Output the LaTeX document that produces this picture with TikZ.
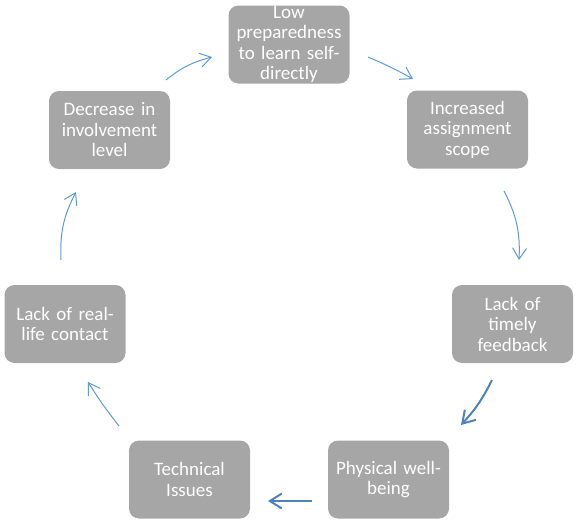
\documentclass[tikz,border=0pt]{standalone}
\usepackage{fontspec}
\setmainfont{Carlito}[WordSpace=0.85]
\usepackage{tikz}
\usetikzlibrary{arrows.meta}
\definecolor{boxgrey}{RGB}{166,166,166}
\definecolor{darkblue}{RGB}{79,129,189}
\definecolor{lightblue}{RGB}{91,155,213}
\tikzstyle{greybox}=[rectangle,rounded corners=10pt,fill=boxgrey,text=white,
                     inner sep=0pt,minimum width=121pt,minimum height=78pt,
                     text width=118pt,align=center,
                     font=\fontsize{19}{20.5}\selectfont]
\tikzstyle{thinarrow}=[draw=lightblue,line width=1pt,
                       -{Straight Barb[length=11pt,width=14pt]}]
\tikzstyle{thickarrow}=[draw=darkblue,line width=2pt,
                        -{Straight Barb[length=12pt,width=15pt]}]
\begin{document}
\begin{tikzpicture}[x=1pt,y=-1pt]
    \useasboundingbox (0,0) rectangle (579,522);
    \node (low)  at (289,  44.5) [greybox]{Low\\preparedness\\to learn self-\\directly};
    \node (incr) at (467.5,129.5) [greybox]{Increased\\assignment\\scope};
    \node (feed) at (512.5,324)   [greybox]{Lack of\\timely\\feedback};
    \node (phys) at (388.5,479.5) [greybox]{Physical well-\\being};
    \node (tech) at (189.5,479.5) [greybox]{Technical\\Issues};
    \node (real) at (65,   324)   [greybox]{Lack of real-\\life contact};
    \node (decr) at (109.5,130)   [greybox]{Decrease in\\involvement\\level};
    % arrow ends
    \coordinate (decr-out) at (166,80);
    \coordinate (low-in)   at (212,57);
    \coordinate (low-out)  at (368,57);
    \coordinate (incr-in)  at (413,79);
    \coordinate (incr-out) at (504,191);
    \coordinate (feed-in)  at (519,260);
    \coordinate (feed-out) at (492,380);
    \coordinate (phys-in)  at (461,425);
    \coordinate (phys-out) at (312,501);
    \coordinate (tech-in)  at (268,501);
    \coordinate (tech-out) at (119,426);
    \coordinate (real-in)  at (88,382);
    \coordinate (real-out) at (61,260);
    \coordinate (decr-in)  at (76,192);
    \draw[thinarrow]  (decr-out) to[bend left=12] (low-in);
    \draw[thinarrow]  (low-out)  to[bend left=3]  (incr-in);
    \draw[thinarrow]  (incr-out) to[bend left=15] (feed-in);
    \draw[thickarrow] (feed-out) to[bend left=8]  (phys-in);
    \draw[thickarrow] (phys-out) -- (tech-in);
    \draw[thinarrow]  (tech-out) to[bend left=3]  (real-in);
    \draw[thinarrow]  (real-out) to[bend left=15] (decr-in);
  \end{tikzpicture}
\end{document}
